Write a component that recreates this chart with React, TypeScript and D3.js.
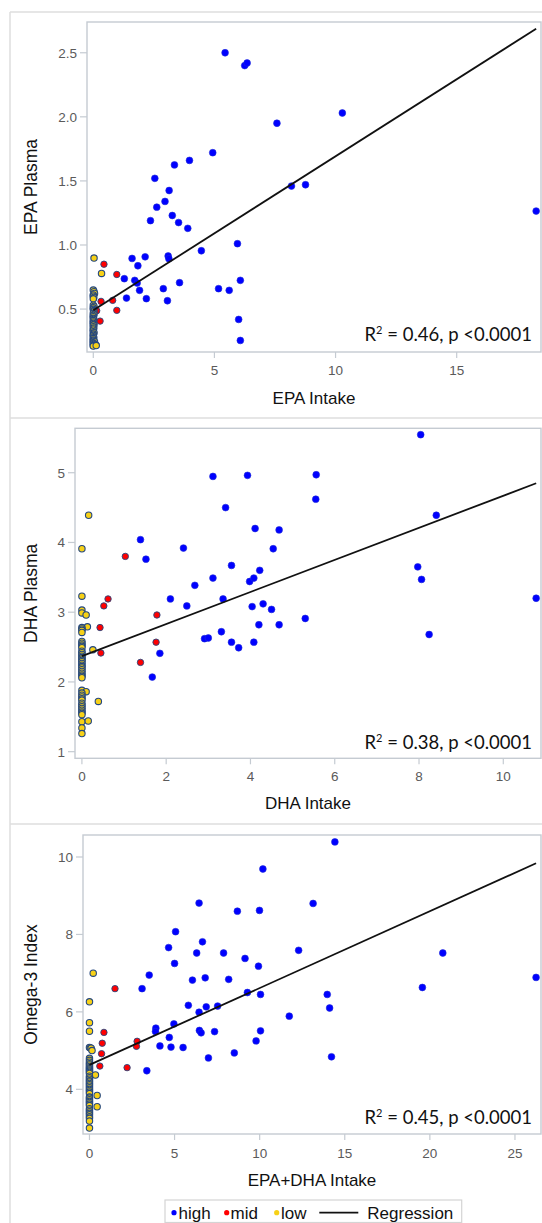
import React from "react";
import * as d3 from "d3";

// ---------- DATA ----------
// Panel 1: EPA intake vs EPA plasma
const epaHigh: [number, number][] = [
  [5.44, 2.5], [6.25, 2.4], [6.35, 2.42], [10.28, 2.03], [7.58, 1.95], [4.93, 1.72],
  [3.97, 1.66], [3.35, 1.625], [2.54, 1.52], [8.18, 1.46], [8.76, 1.47], [3.13, 1.425],
  [2.96, 1.34], [2.62, 1.295], [3.26, 1.23], [3.52, 1.175], [2.36, 1.19], [3.9, 1.13],
  [18.28, 1.265], [5.95, 1.01], [4.46, 0.955], [3.09, 0.914], [3.12, 0.893], [2.14, 0.908],
  [1.6, 0.895], [1.84, 0.838], [1.28, 0.737], [1.71, 0.724], [1.81, 0.703], [1.91, 0.646],
  [1.37, 0.586], [2.19, 0.581], [2.89, 0.659], [3.06, 0.565], [3.56, 0.706], [5.17, 0.659],
  [5.61, 0.646], [6.07, 0.724], [6.0, 0.419], [6.07, 0.255],
];
const epaMid: [number, number][] = [
  [0.44, 0.85], [0.97, 0.77], [0.32, 0.56], [0.8, 0.568], [0.97, 0.49], [0.28, 0.406], [0.14, 0.487],
];
const epaLow: [number, number][] = [
  [0.03, 0.898], [0.34, 0.778], [0, 0.648], [0.03, 0.635], [0.05, 0.622], [0, 0.61], [0, 0.6],
  [0.02, 0.591], [0, 0.58], [0, 0.53], [0.03, 0.52], [0, 0.51], [0, 0.498], [0.02, 0.488],
  [0.02, 0.48], [0, 0.467], [0.03, 0.458], [0, 0.45], [0, 0.44], [0, 0.428], [0.02, 0.42],
  [0, 0.41], [0, 0.4], [0, 0.389], [0.03, 0.38], [0, 0.375], [0, 0.362], [0.02, 0.353],
  [0, 0.345], [0, 0.335], [0, 0.323], [0.03, 0.315], [0, 0.305], [0, 0.295], [0, 0.284],
  [0.02, 0.277], [0, 0.27], [0, 0.258], [0, 0.25], [0.05, 0.245], [0, 0.238], [0, 0.232],
  [0.02, 0.225], [0.1, 0.22], [0, 0.215], [0, 0.211], [0.12, 0.215],
];
const epaFit = [0.49, 0.1202, 18.28]; // intercept, slope, x end
const epaXTicks = [0, 5, 10, 15];
const epaYTicks = [0.5, 1.0, 1.5, 2.0, 2.5];

// Panel 2: DHA intake vs DHA plasma
const dhaHigh: [number, number][] = [
  [8.04, 5.545], [3.11, 4.947], [3.93, 4.962], [5.56, 4.971], [5.55, 4.62], [3.41, 4.5],
  [8.41, 4.39], [4.11, 4.2], [4.68, 4.18], [1.39, 4.04], [2.41, 3.92], [4.54, 3.91],
  [1.52, 3.76], [7.97, 3.65], [3.55, 3.67], [8.06, 3.47], [3.11, 3.49], [3.98, 3.44],
  [4.08, 3.49], [4.22, 3.6], [2.68, 3.385], [10.78, 3.2], [2.1, 3.19], [3.35, 3.19],
  [2.49, 3.09], [4.04, 3.08], [4.3, 3.12], [4.5, 3.04], [5.3, 2.91], [3.31, 2.72],
  [4.68, 2.82], [4.2, 2.82], [8.24, 2.68], [2.91, 2.62], [3.0, 2.63], [3.55, 2.57],
  [4.08, 2.57], [3.72, 2.49], [1.85, 2.41], [1.67, 2.07],
];
const dhaMid: [number, number][] = [
  [1.03, 3.8], [0.62, 3.19], [0.52, 3.09], [1.78, 2.96], [0.43, 2.78], [1.76, 2.57], [0.45, 2.415], [1.39, 2.28],
];
const dhaLow: [number, number][] = [
  [0.16, 4.39], [0, 3.91], [0, 3.23], [0, 3.03], [0, 2.99], [0.1, 2.96], [0.13, 2.79], [0, 2.78],
  [0, 2.76], [0, 2.74], [0, 2.71], [0, 2.58], [0, 2.555], [0, 2.53], [0, 2.51], [0, 2.49],
  [0.26, 2.46], [0, 2.44], [0, 2.42], [0, 2.395], [0, 2.37], [0, 2.35], [0, 2.33], [0, 2.31],
  [0, 2.29], [0, 2.265], [0, 2.24], [0, 2.22], [0, 2.2], [0, 2.175], [0, 2.15], [0, 2.125],
  [0, 2.1], [0, 2.08], [0, 2.06], [0, 1.88], [0.1, 1.86], [0, 1.84], [0, 1.81], [0, 1.785],
  [0, 1.76], [0, 1.74], [0.39, 1.72], [0, 1.695], [0, 1.67], [0, 1.645], [0, 1.62], [0, 1.595],
  [0, 1.57], [0, 1.55], [0, 1.53], [0, 1.43], [0.15, 1.44], [0, 1.34], [0, 1.26],
];
const dhaFit = [2.37, 0.23, 10.78];
const dhaXTicks = [0, 2, 4, 6, 8, 10];
const dhaYTicks = [1, 2, 3, 4, 5];

// Panel 3: EPA+DHA intake vs Omega-3 index
const o3High: [number, number][] = [
  [14.42, 10.39], [10.19, 9.69], [6.44, 8.81], [13.14, 8.8], [8.69, 8.6], [9.99, 8.62],
  [5.06, 8.07], [6.64, 7.81], [4.65, 7.66], [12.29, 7.59], [6.3, 7.52], [7.88, 7.52],
  [20.76, 7.52], [5.0, 7.25], [9.14, 7.38], [9.93, 7.18], [3.51, 6.95], [6.8, 6.88],
  [6.05, 6.82], [8.18, 6.84], [26.24, 6.89], [3.09, 6.6], [19.56, 6.63], [9.28, 6.5],
  [10.05, 6.45], [13.97, 6.45], [5.81, 6.17], [7.53, 6.15], [6.86, 6.13], [6.44, 5.99],
  [14.11, 6.1], [11.74, 5.89], [4.96, 5.69], [3.9, 5.58], [3.88, 5.49], [6.46, 5.52],
  [6.56, 5.46], [7.35, 5.49], [10.05, 5.51], [4.69, 5.34], [9.79, 5.25], [4.14, 5.12],
  [4.79, 5.09], [5.5, 5.08], [8.51, 4.94], [6.99, 4.81], [14.22, 4.84], [3.37, 4.48],
];
const o3Mid: [number, number][] = [
  [1.5, 6.6], [0.85, 5.47], [0.75, 5.19], [2.8, 5.24], [2.76, 5.11], [0.71, 4.92], [0.61, 4.6], [2.21, 4.56],
];
const o3Low: [number, number][] = [
  [0.22, 7.0], [0, 6.26], [0, 5.72], [0, 5.5], [0, 5.08], [0.05, 5.07], [0.1, 5.06], [0.15, 5.0],
  [0, 4.8], [0, 4.75], [0, 4.7], [0, 4.66], [0, 4.63], [0, 4.59], [0, 4.56], [0, 4.53],
  [0, 4.5], [0, 4.47], [0, 4.44], [0, 4.41], [0.35, 4.37], [0, 4.34], [0, 4.3], [0, 4.26],
  [0, 4.22], [0, 4.19], [0, 4.15], [0, 4.12], [0, 4.08], [0, 4.04], [0, 4.0], [0, 3.97],
  [0, 3.93], [0, 3.89], [0.45, 3.84], [0, 3.8], [0, 3.77], [0, 3.73], [0, 3.69], [0, 3.66],
  [0, 3.62], [0, 3.58], [0.45, 3.55], [0, 3.5], [0, 3.46], [0, 3.42], [0, 3.38], [0, 3.34],
  [0, 3.29], [0, 3.25], [0, 3.18], [0, 3.0],
];
const o3Fit = [4.63, 0.1985, 26.24];
const o3XTicks = [0, 5, 10, 15, 20, 25];
const o3YTicks = [4, 6, 8, 10];

const legendLabels = ["high", "mid", "low", "Regression"];

// ---------- STYLE ----------
const W = 542;
const H = 1223;
const COL_HIGH = "#0000ff";
const COL_MID = "#ff0000";
const COL_LOW = "#f7d117";
const OUTLINE = "#24477f";
const FRAME = "#c5cbd2";
const PANEL_LINE = "#dedede";
const TICK_COL = "#5a5a5a";
const SANS = "'Liberation Sans', Arial, sans-serif";

type PanelProps = {
  high: [number, number][];
  mid: [number, number][];
  low: [number, number][];
  fit: number[];
  xTicks: number[];
  yTicks: number[];
  xDomain: [number, number];
  yDomain: [number, number];
  rect: { x0: number; x1: number; y0: number; y1: number };
  xLabel: string;
  yLabel: string;
  stats: string;
  yFmt: (v: number) => string;
  xLabelY: number;
  tickLabelY: number;
  statsY: number;
};

function Panel(p: PanelProps) {
  const { rect } = p;
  const x = d3.scaleLinear().domain(p.xDomain).range([rect.x0, rect.x1]);
  const y = d3.scaleLinear().domain(p.yDomain).range([rect.y1, rect.y0]);
  const [b0, m, xe] = p.fit;
  const line = d3
    .line<number>()
    .x((v) => x(v))
    .y((v) => y(b0 + m * v));
  const cx = (rect.x0 + rect.x1) / 2;
  const cy = (rect.y0 + rect.y1) / 2;
  return (
    <g>
      <rect
        x={rect.x0}
        y={rect.y0}
        width={rect.x1 - rect.x0}
        height={rect.y1 - rect.y0}
        fill="#fff"
        stroke={FRAME}
        strokeWidth={1.4}
      />
      {p.yTicks.map((t) => (
        <g key={"y" + t}>
          <line x1={rect.x0 - 7} x2={rect.x0} y1={y(t)} y2={y(t)} stroke={FRAME} strokeWidth={1.2} />
          <text
            x={rect.x0 - 10}
            y={y(t)}
            dy="0.36em"
            textAnchor="end"
            fontFamily={SANS}
            fontSize={13.5}
            fill={TICK_COL}
          >
            {p.yFmt(t)}
          </text>
        </g>
      ))}
      {p.xTicks.map((t) => (
        <g key={"x" + t}>
          <line x1={x(t)} x2={x(t)} y1={rect.y1} y2={rect.y1 + 6} stroke={FRAME} strokeWidth={1.2} />
          <text x={x(t)} y={p.tickLabelY} textAnchor="middle" fontFamily={SANS} fontSize={13.5} fill={TICK_COL}>
            {t}
          </text>
        </g>
      ))}
      {p.high.map((d, i) => (
        <circle key={"h" + i} cx={x(d[0])} cy={y(d[1])} r={3.4} fill={COL_HIGH} stroke="#1f2bd9" strokeWidth={0.6} />
      ))}
      {p.mid.map((d, i) => (
        <circle key={"m" + i} cx={x(d[0])} cy={y(d[1])} r={3.2} fill={COL_MID} stroke={OUTLINE} strokeWidth={0.9} />
      ))}
      {p.low.map((d, i) => (
        <circle key={"l" + i} cx={x(d[0])} cy={y(d[1])} r={3.2} fill={COL_LOW} stroke={OUTLINE} strokeWidth={1.1} />
      ))}
      <path d={line([0, xe]) || ""} fill="none" stroke="#111" strokeWidth={1.8} />
      <text x={532} y={p.statsY} textAnchor="end" fontFamily="Lato, 'Open Sans', sans-serif" fontSize={18.5} fill="#111">
        R
        <tspan fontSize={11} dy={-7}>
          2
        </tspan>
        <tspan dy={7}>{" = " + p.stats}</tspan>
      </text>
      <text x={cx} y={p.xLabelY} textAnchor="middle" fontFamily={SANS} fontSize={17} fill="#111">
        {p.xLabel}
      </text>
      <text
        transform={`translate(31,${cy}) rotate(-90)`}
        textAnchor="middle"
        dy="0.36em"
        fontFamily={SANS}
        fontSize={17.5}
        fill="#111"
      >
        {p.yLabel}
      </text>
    </g>
  );
}

export default function App() {
  const f1 = d3.format(".1f");
  const f0 = d3.format("d");
  const legendY = 1212.7;
  return (
    <svg
      width={W}
      height={H}
      viewBox={`0 0 ${W} ${H}`}
      style={{ position: "absolute", left: 0, top: 0, background: "#fff", display: "block" }}
    >
      <rect x={0} y={0} width={W} height={H} fill="#fff" />
      <line x1={10} x2={W} y1={12} y2={12} stroke={PANEL_LINE} strokeWidth={1.5} />
      <line x1={10} x2={10} y1={12} y2={H} stroke={PANEL_LINE} strokeWidth={1.5} />
      <line x1={10} x2={W} y1={418} y2={418} stroke={PANEL_LINE} strokeWidth={1.5} />
      <line x1={10} x2={W} y1={824} y2={824} stroke={PANEL_LINE} strokeWidth={1.5} />

      <Panel
        high={epaHigh}
        mid={epaMid}
        low={epaLow}
        fit={epaFit}
        xTicks={epaXTicks}
        yTicks={epaYTicks}
        xDomain={[-0.26, 18.48]}
        yDomain={[0.165, 2.74]}
        rect={{ x0: 87, x1: 541, y0: 22, y1: 352 }}
        xLabel="EPA Intake"
        yLabel="EPA Plasma"
        stats="0.46, p <0.0001"
        yFmt={f1}
        xLabelY={404}
        tickLabelY={375}
        statsY={341}
      />
      <Panel
        high={dhaHigh}
        mid={dhaMid}
        low={dhaLow}
        fit={dhaFit}
        xTicks={dhaXTicks}
        yTicks={dhaYTicks}
        xDomain={[-0.164, 10.895]}
        yDomain={[0.905, 5.637]}
        rect={{ x0: 75, x1: 541, y0: 428.3, y1: 758.3 }}
        xLabel="DHA Intake"
        yLabel="DHA Plasma"
        stats="0.38, p <0.0001"
        yFmt={f0}
        xLabelY={809}
        tickLabelY={781}
        statsY={749}
      />
      <Panel
        high={o3High}
        mid={o3Mid}
        low={o3Low}
        fit={o3Fit}
        xTicks={o3XTicks}
        yTicks={o3YTicks}
        xDomain={[-0.38, 26.53]}
        yDomain={[2.846, 10.568]}
        rect={{ x0: 83, x1: 541, y0: 835, y1: 1134 }}
        xLabel="EPA+DHA Intake"
        yLabel="Omega-3 Index"
        stats="0.45, p <0.0001"
        yFmt={f0}
        xLabelY={1186}
        tickLabelY={1158}
        statsY={1124}
      />

      <g>
        <rect x={165} y={1200} width={296.7} height={22.5} fill="#fff" stroke="#d4d4d4" strokeWidth={1.2} />
        <circle cx={174} cy={legendY} r={2.6} fill={COL_HIGH} />
        <text x={178.5} y={legendY + 6} fontFamily={SANS} fontSize={17} fill="#111">
          {legendLabels[0]}
        </text>
        <circle cx={226.7} cy={legendY} r={2.6} fill={COL_MID} />
        <text x={230.5} y={legendY + 6} fontFamily={SANS} fontSize={17} fill="#111">
          {legendLabels[1]}
        </text>
        <circle cx={276.7} cy={legendY} r={2.6} fill={COL_LOW} />
        <text x={281} y={legendY + 6} fontFamily={SANS} fontSize={17} fill="#111">
          {legendLabels[2]}
        </text>
        <line x1={319.3} x2={358.3} y1={legendY} y2={legendY} stroke="#111" strokeWidth={1.8} />
        <text x={367.3} y={legendY + 6} fontFamily={SANS} fontSize={17} fill="#111">
          {legendLabels[3]}
        </text>
      </g>
    </svg>
  );
}
